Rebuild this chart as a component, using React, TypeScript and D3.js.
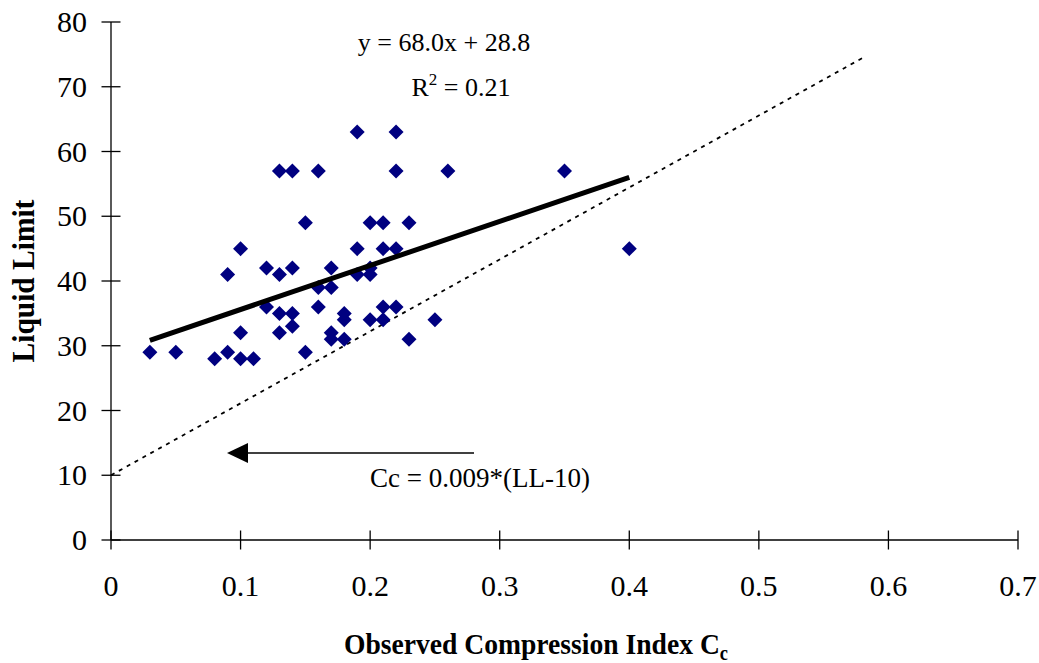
import React from "react";
import * as d3 from "d3";

// Observed compression index Cc vs liquid limit LL
const ccValues = [
  0.03, 0.05, 0.08, 0.09, 0.09, 0.10, 0.10, 0.10, 0.11, 0.12, 0.12, 0.13, 0.13, 0.13,
  0.13, 0.14, 0.14, 0.14, 0.14, 0.15, 0.15, 0.16, 0.16, 0.16, 0.17, 0.17, 0.17, 0.17,
  0.18, 0.18, 0.18, 0.19, 0.19, 0.19, 0.20, 0.20, 0.20, 0.20, 0.21, 0.21, 0.21, 0.21,
  0.22, 0.22, 0.22, 0.22, 0.23, 0.23, 0.25, 0.26, 0.35, 0.40,
];
const llValues = [
  29, 29, 28, 29, 41, 45, 32, 28, 28, 42, 36, 57, 41, 35,
  32, 57, 42, 35, 33, 49, 29, 57, 39, 36, 42, 39, 32, 31,
  35, 34, 31, 63, 45, 41, 49, 42, 41, 34, 49, 45, 36, 34,
  63, 57, 45, 36, 49, 31, 34, 57, 57, 45,
];

// Linear regression: y = 68.0x + 28.8 (R² = 0.21)
const fitSlope = 68.0;
const fitIntercept = 28.8;
const fitRange = [0.03, 0.4];

// Reference relation: Cc = 0.009*(LL-10)
const refCoef = 0.009;
const refOffset = 10;
const refRange = [0, 0.58];

const xTicks = [0, 0.1, 0.2, 0.3, 0.4, 0.5, 0.6, 0.7];
const yTicks = [0, 10, 20, 30, 40, 50, 60, 70, 80];

const W = 1039;
const H = 663;
const FONT = "'Liberation Serif', 'Times New Roman', serif";

export default function App() {
  const x = d3.scaleLinear().domain([0, 0.7]).range([111, 1018]);
  const y = d3.scaleLinear().domain([0, 80]).range([540, 22]);

  const line = d3
    .line<[number, number]>()
    .x((d) => x(d[0]))
    .y((d) => y(d[1]));

  const fitPts: [number, number][] = fitRange.map((c) => [c, fitSlope * c + fitIntercept]);
  const refPts: [number, number][] = refRange.map((c) => [c, c / refCoef + refOffset]);

  const diamond = (cx: number, cy: number, r: number) =>
    `M${cx},${cy - r}L${cx + r},${cy}L${cx},${cy + r}L${cx - r},${cy}Z`;

  const x0 = x(0);
  const y0 = y(0);

  return (
    <svg
      width={W}
      height={H}
      style={{ position: "absolute", left: 0, top: 0, background: "#fff" }}
      fontFamily={FONT}
    >
      {/* axes */}
      <line x1={x0} x2={x0} y1={y(80)} y2={y0} stroke="#000" strokeWidth={1.3} />
      <line x1={x0} x2={x(0.7)} y1={y0} y2={y0} stroke="#000" strokeWidth={1.3} />
      {yTicks.map((t) => (
        <g key={"y" + t}>
          <line x1={x0 - 9.5} x2={x0 + 9.5} y1={y(t)} y2={y(t)} stroke="#000" strokeWidth={1.3} />
          <text x={87} y={y(t)} dy="0.34em" textAnchor="end" fontSize={30}>
            {t}
          </text>
        </g>
      ))}
      {xTicks.map((t) => (
        <g key={"x" + t}>
          <line x1={x(t)} x2={x(t)} y1={y0 - 9.5} y2={y0 + 9.5} stroke="#000" strokeWidth={1.3} />
          <text x={x(t)} y={596} textAnchor="middle" fontSize={30}>
            {t}
          </text>
        </g>
      ))}

      {/* reference line */}
      <path
        d={line(refPts) || ""}
        fill="none"
        stroke="#000"
        strokeWidth={1.8}
        strokeDasharray="4,5"
      />

      {/* data */}
      {ccValues.map((c, i) => (
        <path key={i} d={diamond(x(c), y(llValues[i]), 7.5)} fill="#000080" />
      ))}

      {/* regression line */}
      <path d={line(fitPts) || ""} fill="none" stroke="#000" strokeWidth={5} />

      {/* equation */}
      <text x={444} y={51} textAnchor="middle" fontSize={26}>
        y = 68.0x + 28.8
      </text>
      <text x={461} y={96} textAnchor="middle" fontSize={26}>
        R<tspan dy={-11} fontSize={17}>2</tspan>
        <tspan dy={11}> = 0.21</tspan>
      </text>

      {/* annotation arrow */}
      <line x1={474} x2={245} y1={453} y2={453} stroke="#000" strokeWidth={1.5} />
      <path d="M227,453L248,443L248,463Z" fill="#000" />
      <text x={370} y={487} fontSize={27}>
        Cc = 0.009*(LL-10)
      </text>

      {/* axis titles */}
      <text
        transform="translate(34,281) rotate(-90) scale(0.95,1)"
        textAnchor="middle"
        fontSize={31}
        fontWeight="bold"
      >
        Liquid Limit
      </text>
      <text
        transform="translate(536,654) scale(0.92,1)"
        textAnchor="middle"
        fontSize={30}
        fontWeight="bold"
      >
        Observed Compression Index C<tspan dy={6} fontSize={20}>c</tspan>
      </text>
    </svg>
  );
}
